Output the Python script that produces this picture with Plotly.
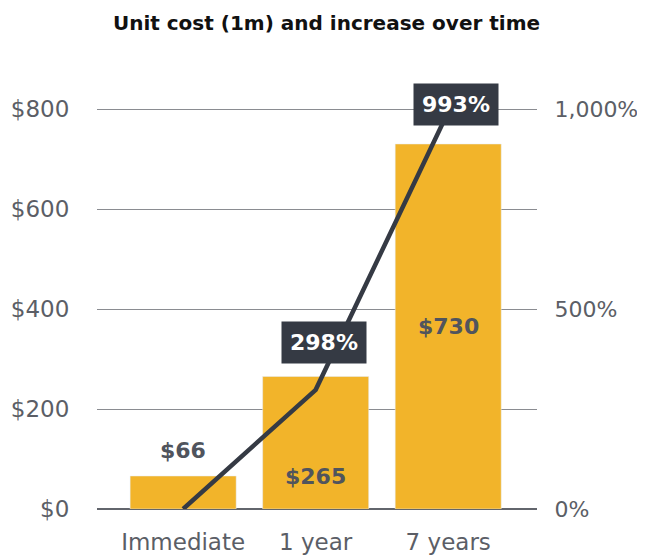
import plotly.graph_objects as go

categories = ["Immediate", "1 year", "7 years"]
unit_cost = [66, 265, 730]
increase_pct = [0, 298, 993]
cost_labels = ["$66", "$265", "$730"]
pct_labels = ["", "298%", "993%"]
left_ticks = [0, 200, 400, 600, 800]
left_ticktext = ["$0", "$200", "$400", "$600", "$800"]
right_ticks = [0, 500, 1000]
right_ticktext = ["0%", "500%", "1,000%"]

FONT = "DejaVu Sans"
BAR = "#f2b42a"
DARK = "#353a44"
TXT = "#50545d"
TICK = "#5b5e66"

fig = go.Figure()
fig.add_trace(go.Bar(x=categories, y=unit_cost, marker_color=BAR, width=0.8,
                     hoverinfo="skip", showlegend=False))
fig.add_trace(go.Scatter(x=categories, y=increase_pct, yaxis="y2", mode="lines",
                         line=dict(color=DARK, width=4.5), showlegend=False))

# cost labels
label_pos = [(unit_cost[0], 26), (0, 33), (unit_cost[2] / 2, 0)]
for c, lab, (yv, ys) in zip(categories, cost_labels, label_pos):
    fig.add_annotation(x=c, y=yv, yshift=ys, text=lab, showarrow=False,
                       font=dict(family=FONT, size=22, color=TXT, weight="bold"))

# percent labels
pct_shift = [0, 47, 7]
for c, v, lab, ys in zip(categories, increase_pct, pct_labels, pct_shift):
    if not lab:
        continue
    fig.add_annotation(x=c, y=v, yref="y2", yshift=ys, xshift=8, text=lab,
                       showarrow=False, bgcolor=DARK, borderpad=8,
                       font=dict(family=FONT, size=22, color="white", weight="bold"))

# page body has an 8px margin; figure sized so the plot lands where the reference has it
fig.update_layout(
    width=637, height=547,
    margin=dict(l=89, r=108, t=91, b=46, autoexpand=False),
    paper_bgcolor="white", plot_bgcolor="white",
    title=dict(text="<b>Unit cost (1m) and increase over time</b>", x=0.5, xanchor="center",
               xref="container", y=1 - 15 / 547, yanchor="middle",
               font=dict(family=FONT, size=20, color="#111111")),
    bargap=0.2,
    xaxis=dict(range=[-0.65, 2.67], showgrid=False, ticks="outside", ticklen=12,
               tickcolor="rgba(0,0,0,0)", showline=False, automargin=False,
               tickfont=dict(family=FONT, size=23, color=TICK)),
    yaxis=dict(range=[0, 820], tickvals=left_ticks, ticktext=left_ticktext,
               showgrid=True, gridcolor="#8a8c91", gridwidth=1, zeroline=True,
               zerolinecolor="#62656c", zerolinewidth=2, automargin=False,
               ticks="outside", ticklen=22, tickcolor="rgba(0,0,0,0)",
               tickfont=dict(family=FONT, size=23, color=TICK)),
    yaxis2=dict(range=[0, 1025], overlaying="y", side="right", tickvals=right_ticks,
                ticktext=right_ticktext, showgrid=False, zeroline=False, automargin=False,
                ticks="outside", ticklen=12, tickcolor="rgba(0,0,0,0)",
                tickfont=dict(family=FONT, size=22, color=TICK)),
)

fig.write_html("out.html")
